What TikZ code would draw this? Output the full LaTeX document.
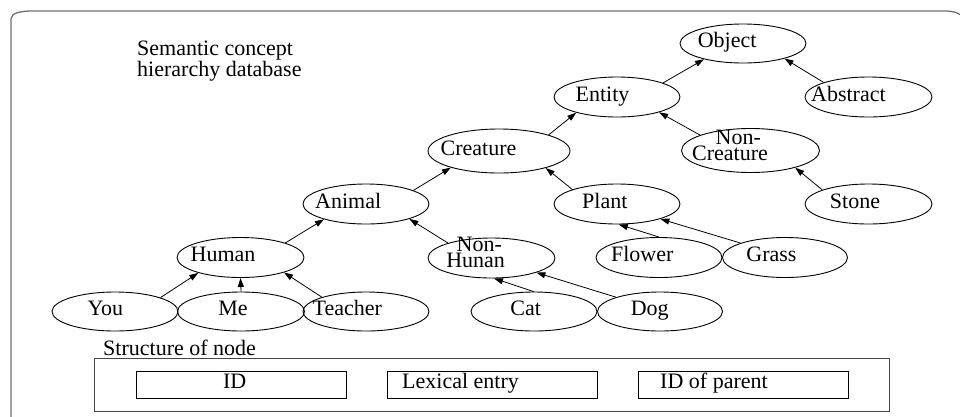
\documentclass[tikz,border=0pt]{standalone}
\usepackage{fontspec}
\setmainfont{Liberation Serif}
\usetikzlibrary{shapes.geometric,arrows.meta}
% pads a word on the right so that the centred box sits the word left of centre
\newcommand\padl[1]{\makebox[1.54\width][l]{#1}}
\definecolor{framegray}{RGB}{112,112,112}
\definecolor{boxgray}{RGB}{70,70,70}

\begin{document}
\begin{tikzpicture}[x=1pt,y=-1pt,
  font=\fontsize{22}{14}\selectfont,
  concept/.style={ellipse, draw, line width=0.9pt, minimum width=126pt,
    minimum height=40pt, inner sep=0pt},
  word/.style={inner sep=0pt, text height=12pt, text depth=4pt},
  twoword/.style={inner sep=0pt, align=center, yshift=5.3pt},
  link/.style={line width=0.8pt, -{Triangle[length=9pt,width=6pt]}},
  field/.style={draw, line width=0.9pt, minimum width=210pt, minimum height=27pt,
    inner sep=0pt, text height=12pt, text depth=4pt},
]
\useasboundingbox (0,0) rectangle (960,416);
\clip (0,0) rectangle (960,416);

% outer frame, open towards the bottom and right
\draw[framegray, line width=1.3pt]
  (11,430) -- (11,19) .. controls (11,13) and (20,11) .. (33,11)
  -- (944,11) .. controls (954,11) and (960,13) .. (966,19);

\node[anchor=north west, inner sep=0pt, align=left,
  font=\fontsize{22}{13}\selectfont] (title) at (137,40.4)
  {Semantic concept\\hierarchy database};

% concept hierarchy
\node[concept, minimum height=39pt, label={[word]center:{\padl{Object}}}] (object) at (743,43.5) {};
\node[concept, label={[word]center:{\padl{Entity}}}] (entity) at (617,97) {};
\node[concept, minimum width=127pt, label={[word]center:{\padl{Abstract}}}] (abstract) at (868.5,97) {};
\node[concept, minimum width=142pt, minimum height=44pt, label={[word]center:{\padl{Creature}}}] (creature) at (499,151) {};
\node[concept, minimum width=138pt, minimum height=44pt, label={[twoword]center:{\padl{Non-}\\\padl{Creature}}}] (noncreature) at (750.5,150.5) {};
\node[concept, label={[word]center:{\padl{Animal}}}] (animal) at (366,204) {};
\node[concept, label={[word]center:{\padl{Plant}}}] (plant) at (617,204) {};
\node[concept, minimum width=127pt, label={[word]center:{\padl{Stone}}}] (stone) at (868.5,204) {};
\node[concept, minimum width=127pt, label={[word]center:{\padl{Human}}}] (human) at (240.5,257.5) {};
\node[concept, minimum width=127pt, label={[twoword]center:{\padl{Non-}\\\padl{Hunan}}}] (nonhunan) at (491.5,258) {};
\node[concept, label={[word]center:{\padl{Flower}}}] (flower) at (659,257.5) {};
\node[concept, minimum width=125pt, label={[word]center:{\padl{Grass}}}] (grass) at (785,257.5) {};
\node[concept, minimum height=39pt, label={[word]center:{\padl{You}}}] (you) at (115,311.5) {};
\node[concept, minimum width=127pt, minimum height=39pt, label={[word]center:{\padl{Me}}}] (me) at (241,311.5) {};
\node[concept, minimum height=39pt, label={[word]center:{\padl{Teacher}}}] (teacher) at (366,311.5) {};
\node[concept, minimum height=39pt, label={[word]center:{\padl{Cat}}}] (cat) at (534,311.5) {};
\node[concept, minimum width=125pt, minimum height=39pt, label={[word]center:{\padl{Dog}}}] (dog) at (660,311.5) {};

% child -> parent links
\draw[link] (you.17) -- (human.200);
\draw[link] (me.90) -- (human.270);
\draw[link] (teacher.162) -- (human.341);
\draw[link] (human.18) -- (animal.200);
\draw[link] (nonhunan.161) -- (animal.341);
\draw[link] (cat.91) -- (nonhunan.277);
\draw[link] (dog.162) -- (nonhunan.342);
\draw[link] (animal.16) -- (creature.199);
\draw[link] (plant.162) -- (creature.340);
\draw[link] (flower.90) -- (plant.275);
\draw[link] (grass.162) -- (plant.341);
\draw[link] (creature.18) -- (entity.201);
\draw[link] (noncreature.163) -- (entity.340);
\draw[link] (entity.17) -- (object.202);
\draw[link] (abstract.162) -- (object.340);
\draw[link] (stone.163) -- (noncreature.339);

% node record layout
\node[anchor=base west, inner sep=0pt] (structlabel) at (103,355) {Structure of node};
\node[draw=boxgray, line width=0.9pt, minimum width=795pt, minimum height=53pt,
  inner sep=0pt] (record) at (491.5,384.5) {};
\node[field] (fid) at (241,384.5) {\padl{ID}};
\node[field] (flex) at (492,384.5) {\padl{Lexical entry}};
\node[field] (fpar) at (743,384.5) {\padl{ID of parent}};
\end{tikzpicture}
\end{document}
